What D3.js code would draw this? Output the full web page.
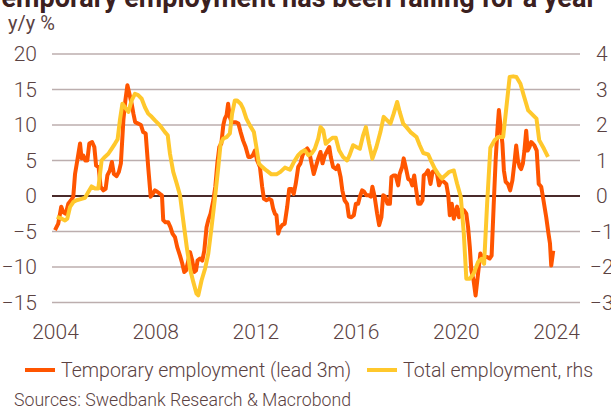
<!DOCTYPE html>
<html>
<head>
<meta charset="utf-8">
<script src="https://cdn.jsdelivr.net/npm/d3@7"></script>
<style>
  body { margin: 0; background: #fff; }
  svg text { font-family: Roboto, "Noto Sans", sans-serif; fill: #5b4242; }
</style>
</head>
<body>
<div id="canvas"></div>
<script>
// temporary employment, y/y %, lead 3m (left axis)
var tempDates = [2004.00,2004.13,2004.25,2004.33,2004.43,2004.53,2004.64,2004.73,2004.80,2004.89,
  2005.00,2005.06,2005.13,2005.21,2005.29,2005.37,2005.48,2005.57,2005.64,2005.74,2005.82,2005.93,
  2006.02,2006.09,2006.19,2006.27,2006.35,2006.46,2006.55,2006.63,2006.73,2006.81,2006.89,2006.97,
  2007.06,2007.13,2007.20,2007.32,2007.43,2007.52,2007.62,2007.72,2007.82,2007.90,2007.99,
  2008.08,2008.19,2008.27,2008.32,2008.41,2008.52,2008.61,2008.69,2008.79,2008.88,2008.99,
  2009.08,2009.16,2009.23,2009.32,2009.39,2009.48,2009.56,2009.63,2009.69,2009.79,2009.88,2009.96,
  2010.05,2010.12,2010.21,2010.32,2010.40,2010.48,2010.56,2010.64,2010.72,2010.78,2010.85,2010.91,2010.98,
  2011.05,2011.12,2011.22,2011.32,2011.41,2011.51,2011.61,2011.72,2011.81,2011.89,2011.98,
  2012.07,2012.18,2012.27,2012.34,2012.44,2012.55,2012.64,2012.71,2012.78,2012.84,2012.91,2012.97,
  2013.07,2013.17,2013.27,2013.35,2013.44,2013.53,2013.61,2013.71,2013.80,2013.88,2013.97,
  2014.07,2014.15,2014.24,2014.33,2014.41,2014.51,2014.60,2014.68,2014.77,2014.87,2014.95,
  2015.01,2015.10,2015.21,2015.30,2015.40,2015.47,2015.56,2015.66,2015.73,2015.83,2015.93,
  2016.01,2016.10,2016.17,2016.26,2016.34,2016.43,2016.53,2016.61,2016.67,2016.76,2016.86,2016.94,
  2017.03,2017.10,2017.19,2017.27,2017.37,2017.43,2017.52,2017.60,2017.70,2017.76,2017.86,2017.92,
  2018.00,2018.10,2018.19,2018.26,2018.34,2018.40,2018.50,2018.59,2018.67,2018.72,2018.80,2018.89,2018.99,
  2019.07,2019.16,2019.25,2019.33,2019.42,2019.52,2019.62,2019.70,2019.76,2019.84,2019.92,
  2020.05,2020.13,2020.22,2020.32,2020.42,2020.49,2020.56,2020.62,2020.71,2020.79,2020.89,2020.98,
  2021.06,2021.15,2021.25,2021.35,2021.43,2021.51,2021.59,2021.66,2021.72,2021.79,2021.86,2021.92,2021.99,
  2022.08,2022.17,2022.26,2022.35,2022.41,2022.48,2022.55,2022.61,2022.68,2022.74,2022.81,2022.87,2022.94,
  2023.01,2023.07,2023.14,2023.23,2023.31,2023.41,2023.50,2023.61,2023.70,2023.76,2023.81,2023.89];
var tempValues = [-4.8,-3.9,-1.5,-2.3,-2.5,-1.1,-0.6,-0.1,3.1,5.0,
  7.4,5.3,5.7,5.0,5.0,7.4,7.6,6.9,4.3,4.1,1.3,0.8,
  1.0,2.9,3.6,4.8,3.1,2.8,3.4,4.6,10.7,13.5,15.6,14.4,
  13.0,11.6,10.4,10.2,10.0,9.0,8.8,4.1,-0.1,0.3,0.8,
  0.6,0.3,0.1,-3.4,-3.7,-3.7,-4.4,-5.3,-5.8,-7.2,-8.4,
  -9.5,-10.7,-10.5,-9.1,-7.9,-9.1,-10.7,-10.5,-9.1,-8.8,-9.1,-7.7,
  -4.4,-3.4,-2.5,-0.6,1.3,4.6,6.9,7.4,10.0,10.9,11.4,13.0,11.1,
  10.4,10.4,10.4,10.2,9.0,7.8,6.9,5.5,5.5,5.7,6.4,
  5.0,4.1,1.3,-0.4,-0.6,-0.4,-0.6,-1.8,-2.5,-2.7,-5.3,-4.6,
  -4.1,-3.9,-1.5,1.0,1.0,0.3,1.7,4.1,4.6,5.7,6.4,
  6.7,6.2,4.6,3.1,4.1,5.3,6.2,4.6,5.7,6.4,6.9,
  5.5,4.1,3.8,4.3,2.7,0.8,-0.6,-1.1,-2.9,-3.0,-2.7,
  -1.1,-1.1,-0.1,0.8,0.6,0.1,0.1,-0.1,1.3,-0.1,-2.5,-4.1,
  -3.0,0.1,-0.1,-1.1,-1.1,2.7,2.9,2.9,1.5,3.1,4.1,5.3,
  4.1,2.4,2.2,1.5,2.9,1.3,-1.1,-1.1,-0.6,2.9,3.1,3.6,1.7,
  3.4,3.6,3.1,1.5,2.2,2.0,1.7,0.1,-2.7,-1.1,-3.2,
  -1.5,-3.0,-1.8,-2.0,-2.5,-4.4,-7.2,-10.5,-11.9,-14.0,-10.9,-8.1,
  -8.6,-8.6,-8.6,-8.8,-8.4,-1.5,5.0,9.2,12.1,9.7,7.4,3.6,2.0,
  1.7,0.8,2.2,5.0,7.1,5.0,4.1,3.8,4.6,6.4,9.2,6.4,6.9,
  7.6,7.4,7.1,6.4,1.7,1.3,-0.6,-3.0,-5.3,-6.7,-9.8,-7.7];

// total employment, y/y % (right axis)
var totalDates = [2004.07,2004.27,2004.40,2004.49,2004.60,2004.73,2004.86,2005.06,2005.20,2005.33,
  2005.46,2005.60,2005.73,2005.86,2005.99,2006.13,2006.26,2006.39,2006.50,2006.59,2006.69,2006.79,2006.93,
  2007.06,2007.19,2007.32,2007.46,2007.59,2007.72,2007.86,2007.99,
  2008.19,2008.39,2008.50,2008.59,2008.72,2008.86,2008.99,
  2009.12,2009.26,2009.39,2009.52,2009.65,2009.72,2009.85,2009.99,
  2010.12,2010.25,2010.39,2010.52,2010.61,2010.72,2010.85,2010.98,
  2011.07,2011.18,2011.27,2011.41,2011.51,2011.64,2011.78,2011.94,
  2012.05,2012.14,2012.27,2012.44,2012.64,2012.84,2013.00,2013.18,2013.38,2013.54,2013.71,2013.84,2013.97,
  2014.11,2014.24,2014.37,2014.51,2014.60,2014.71,2014.81,2014.95,2015.08,2015.21,2015.34,2015.50,2015.66,2015.76,2015.90,
  2016.03,2016.17,2016.30,2016.41,2016.54,2016.67,2016.83,2016.99,2017.12,2017.26,2017.39,2017.52,2017.66,2017.76,2017.90,
  2018.03,2018.19,2018.43,2018.56,2018.70,2018.90,2019.03,2019.16,2019.29,2019.45,2019.58,2019.74,2019.92,
  2020.05,2020.20,2020.32,2020.42,2020.56,2020.71,2020.89,2021.02,2021.13,2021.25,2021.38,2021.55,2021.69,2021.89,
  2022.02,2022.15,2022.29,2022.42,2022.58,2022.71,2022.89,2023.09,2023.22,2023.33,2023.52,2023.68];
var totalValues = [-0.59,-0.64,-0.69,-0.64,-0.31,-0.17,-0.12,-0.08,-0.05,0.11,
  0.27,0.21,0.21,1.00,1.10,1.19,1.33,1.47,1.60,2.13,2.60,2.50,2.37,
  2.69,2.88,2.84,2.74,2.50,2.32,2.23,2.13,
  1.99,1.80,1.71,1.19,0.68,0.35,0.02,
  -0.69,-1.44,-2.05,-2.42,-2.75,-2.80,-2.38,-2.05,
  -1.62,-0.87,-0.03,0.82,1.47,1.62,1.66,1.76,
  2.32,2.69,2.69,2.60,2.46,2.18,1.99,1.80,
  1.33,0.91,0.82,0.72,0.61,0.61,0.68,0.80,0.74,0.96,1.15,1.24,1.29,
  1.15,1.19,1.33,1.62,1.94,1.85,1.47,1.57,1.64,1.64,1.29,1.10,1.00,1.15,1.43,
  1.38,1.33,1.71,1.94,1.47,1.05,1.38,1.80,2.23,2.13,2.04,2.32,2.65,2.37,2.04,
  1.94,1.80,1.66,1.43,1.21,1.17,0.96,0.77,0.63,0.49,0.58,0.68,0.72,
  0.35,-0.03,-1.06,-2.33,-2.33,-2.19,-1.86,-1.77,-1.91,-0.22,1.36,1.57,1.66,1.66,
  2.50,3.35,3.37,3.35,3.16,2.84,2.41,2.27,2.18,1.57,1.33,1.10];

var leftTicks = [20, 15, 10, 5, 0, -5, -10, -15];
var rightTicks = [4, 3, 2, 1, 0, -1, -2, -3];
var yearTicks = [2004, 2008, 2012, 2016, 2020, 2024];

var W = 611, H = 408;
var svg = d3.select('#canvas').append('svg')
    .attr('width', W).attr('height', H);

var x = d3.scaleLinear().domain([2004, 2024]).range([55, 556]);
var yL = d3.scaleLinear().domain([-15, 20]).range([302.5, 54]);
var yR = d3.scaleLinear().domain([-3, 4]).range([302.5, 54]);

// title, cut off at the top like the source image
svg.append('text')
    .attr('x', -14).attr('y', 7)
    .style('font-size', '27px').style('font-weight', 'bold')
    .style('fill', '#3b2020')
    .text('Temporary employment has been falling for a year');

svg.append('text')
    .attr('x', 8).attr('y', 30)
    .style('font-size', '20px')
    .text('y/y %');

// gridlines
svg.append('g').selectAll('line')
    .data(leftTicks)
    .enter().append('line')
    .attr('x1', 52).attr('x2', 580)
    .attr('y1', function(d){ return yL(d); })
    .attr('y2', function(d){ return yL(d); })
    .attr('stroke', function(d){ return d === 0 ? '#4a2a2a' : '#bcaeae'; })
    .attr('stroke-width', function(d){ return d === 0 ? 2 : 1.5; });

var fmt = d3.format('d');
// left axis
var axisL = d3.axisLeft(yL).tickValues(leftTicks).tickFormat(fmt).tickSize(0).tickPadding(0);
var gL = svg.append('g').attr('transform', 'translate(37,0)').call(axisL);
// right axis
var axisR = d3.axisRight(yR).tickValues(rightTicks).tickFormat(fmt).tickSize(0).tickPadding(0);
var gR = svg.append('g').attr('transform', 'translate(596,0)').call(axisR);
// bottom axis
var axisB = d3.axisBottom(x).tickValues(yearTicks).tickFormat(fmt).tickSize(0).tickPadding(0);
var gB = svg.append('g').attr('transform', 'translate(0,324)').call(axisB);

[gL, gR, gB].forEach(function(g){
  g.select('.domain').remove();
  g.selectAll('text')
    .style('font-size', '21px')
    .style('font-weight', 300)
    .attr('fill', '#5b4242');
});
// minus sign hangs left of the digits on the right axis
gR.selectAll('text').attr('x', function(d){ return d < 0 ? -6 : 0; });

// lines
var tempData = tempDates.map(function(t, i){ return {t: t, v: tempValues[i]}; });
var totalData = totalDates.map(function(t, i){ return {t: t, v: totalValues[i]}; });

svg.append('path')
    .datum(tempData)
    .attr('fill', 'none')
    .attr('stroke', '#ff5500')
    .attr('stroke-width', 4)
    .attr('stroke-linejoin', 'round')
    .attr('d', d3.line().x(function(d){ return x(d.t); }).y(function(d){ return yL(d.v); }));

svg.append('path')
    .datum(totalData)
    .attr('fill', 'none')
    .attr('stroke', '#ffc82c')
    .attr('stroke-width', 4)
    .attr('stroke-linejoin', 'round')
    .attr('d', d3.line().x(function(d){ return x(d.t); }).y(function(d){ return yR(d.v); }));

// legend
var legend = [
  {label: 'Temporary employment (lead 3m)', color: '#ff5500', x: 25},
  {label: 'Total employment, rhs', color: '#ffc82c', x: 367}
];
var lg = svg.append('g').selectAll('g')
    .data(legend)
    .enter().append('g')
    .attr('transform', function(d){ return 'translate(' + d.x + ',370)'; });
lg.append('line')
    .attr('x1', 0).attr('x2', 30)
    .attr('stroke', function(d){ return d.color; })
    .attr('stroke-width', 4);
lg.append('text')
    .attr('x', 36).attr('y', 7)
    .style('font-size', '19.5px')
    .style('font-weight', 300)
    .text(function(d){ return d.label; });

svg.append('text')
    .attr('x', 14).attr('y', 406)
    .style('font-size', '17.7px')
    .style('font-weight', 300)
    .text('Sources: Swedbank Research & Macrobond');
</script>
</body>
</html>
